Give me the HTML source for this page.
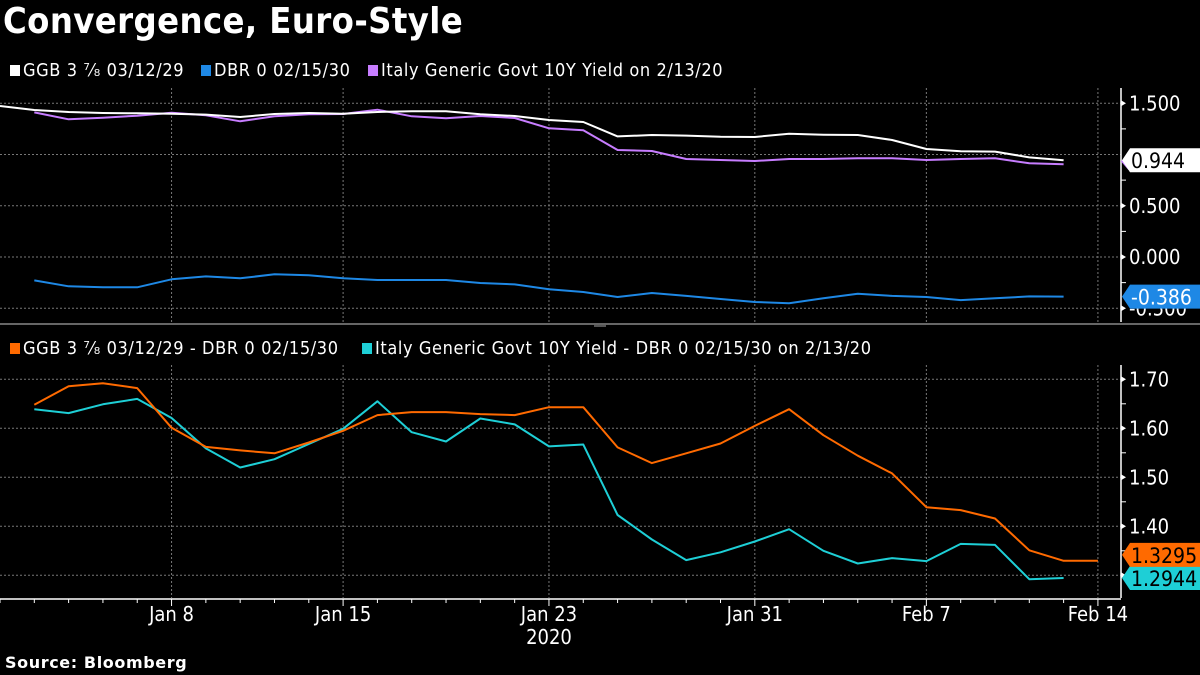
<!DOCTYPE html>
<html><head><meta charset="utf-8"><style>
html,body{margin:0;padding:0;background:#000;}
body{width:1200px;height:675px;overflow:hidden;position:relative;font-family:"Liberation Sans Narrow","DejaVu Sans Condensed","Liberation Sans",sans-serif;color:#fff;}
#title{position:absolute;left:3px;top:1px;font-family:"DejaVu Sans Condensed","Liberation Sans",sans-serif;font-weight:bold;font-size:36px;letter-spacing:0.4px;}
#source{position:absolute;left:5px;top:653px;font-family:"DejaVu Sans","Liberation Sans",sans-serif;font-weight:bold;font-size:16px;letter-spacing:0.6px;}
svg{position:absolute;left:0;top:0;}
</style></head><body>
<div id="title">Convergence, Euro-Style</div>
<div id="source">Source: Bloomberg</div>
<svg id="chart" width="1200" height="675"></svg>
<script>
// business-day index from Dec 31, 2019
const ggb = [1.473,1.434,1.415,1.405,1.402,1.398,1.389,1.366,1.395,1.405,1.398,1.415,1.421,1.421,1.392,1.376,1.337,1.317,1.177,1.190,1.184,1.174,1.171,1.203,1.193,1.190,1.141,1.054,1.031,1.028,0.972,0.944];
const italy = [null,1.411,1.343,1.359,1.379,1.408,1.382,1.324,1.373,1.392,1.395,1.437,1.373,1.353,1.376,1.356,1.256,1.236,1.044,1.034,0.956,0.946,0.937,0.956,0.956,0.963,0.963,0.946,0.956,0.963,0.914,0.904];
const dbr = [null,-0.228,-0.286,-0.296,-0.296,-0.218,-0.189,-0.208,-0.169,-0.179,-0.208,-0.224,-0.224,-0.224,-0.254,-0.267,-0.315,-0.341,-0.390,-0.351,-0.380,-0.410,-0.439,-0.452,-0.403,-0.358,-0.380,-0.390,-0.420,-0.403,-0.384,-0.386];
const spreadGgb = [null,1.648,1.686,1.692,1.682,1.601,1.562,1.555,1.549,1.571,1.595,1.627,1.633,1.633,1.629,1.627,1.643,1.643,1.561,1.529,1.549,1.569,1.605,1.639,1.586,1.544,1.508,1.439,1.433,1.416,1.351,1.3295,1.3295];
const spreadItaly = [null,1.639,1.631,1.649,1.660,1.621,1.559,1.520,1.537,1.568,1.599,1.655,1.592,1.573,1.620,1.608,1.563,1.567,1.423,1.373,1.331,1.347,1.369,1.394,1.350,1.324,1.335,1.329,1.364,1.362,1.292,1.2944];
const dateLabels = ["Jan 8","Jan 15","Jan 23","Jan 31","Feb 7","Feb 14"];
const dateIdx = [5,10,16,22,27,32];
const topTicks = [1.5,0.5,0.0,-0.5];
const topTickLabels = ["1.500","0.500","0.000","-0.500"];
const botTicks = [1.7,1.6,1.5,1.4,1.3];
const botTickLabels = ["1.70","1.60","1.50","1.40","1.30"];

const svg = document.getElementById('chart');
const NS = 'http://www.w3.org/2000/svg';
const AX = 1121;
const x = k => k * 34.31;
const yTop = v => 257 - 102.5 * v;
const yBot = v => 379.3 - (v - 1.7) * 490;
function mk(tag, attrs, parent){ const e=document.createElementNS(NS,tag); for(const a in attrs) e.setAttribute(a,attrs[a]); (parent||svg).appendChild(e); return e; }
const FONT = '"Liberation Sans Narrow","DejaVu Sans Condensed","Liberation Sans",sans-serif';

// legends
function legend(items, y){
  let cx = 10;
  items.forEach(it=>{
    const sw = mk('rect',{x:cx,y:y-11,width:10,height:11,fill:it.c});
    
    
    const t = mk('text',{x:cx+13,y:y,fill:'#fff','font-size':18,'font-family':FONT,'letter-spacing':0.6,'xml:space':'preserve'});
    t.textContent = it.t;
    
    
    cx += it.w;
  });
}
legend([{c:'#fff',t:'GGB 3 ⁷⁄₈ 03/12/29',w:191},{c:'#1e88e5',t:'DBR 0 02/15/30',w:167},{c:'#c77dff',t:'Italy Generic Govt 10Y Yield  on 2/13/20',w:400}],76);
legend([{c:'#ff6a00',t:'GGB 3 ⁷⁄₈ 03/12/29 - DBR 0 02/15/30',w:352},{c:'#1ecfd6',t:'Italy Generic Govt 10Y Yield - DBR 0 02/15/30 on 2/13/20',w:560}],354);

// gridlines
function hgrid(ticks, yf, y0, y1){
  ticks.forEach(v=>{ const yy=yf(v); if(yy<y0||yy>y1) return;
    const l=mk('line',{x1:0,x2:AX,y1:yy,y2:yy,stroke:'#777','stroke-dasharray':'2,2','stroke-width':1});
    
    
  });
}
function vgrid(y0,y1){
  dateIdx.forEach(k=>{ const l=mk('line',{x1:x(k),x2:x(k),y1:y0,y2:y1,stroke:'#777','stroke-dasharray':'2,2','stroke-width':1});
    
    
  });
}
hgrid([1.5,1.0,0.5,0,-0.5], yTop, 88, 322);
vgrid(88, 322);
hgrid([1.7,1.6,1.5,1.4,1.3], yBot, 365, 598);
vgrid(365, 598);

// axes
function yaxis(y0,y1,ticks,labels,yf,minor){
  const a=mk('line',{x1:AX,x2:AX,y1:y0,y2:y1,stroke:'#fff','stroke-width':1.5});
  
  
  minor.forEach(v=>{ const yy=yf(v); if(yy<y0||yy>y1) return; mk('line',{x1:AX,x2:AX+5,y1:yy,y2:yy,stroke:'#fff'}); });
  ticks.forEach((v,i)=>{ const yy=yf(v);
    mk('path',{d:`M${AX} ${yy-3} L${AX+5} ${yy} L${AX} ${yy+3}Z`,fill:'#fff'});
    const t=mk('text',{x:AX+8,y:yy+7,fill:'#fff','font-size':20,'font-family':FONT}); t.textContent=labels[i];
    
    
  });
}
yaxis(88,322,topTicks,topTickLabels,yTop,[1.25,0.75,0.25,-0.25]);
yaxis(365,598,botTicks,botTickLabels,yBot,[1.65,1.55,1.45,1.35]);

// divider
mk('line',{x1:0,x2:1200,y1:324,y2:324,stroke:'#888','stroke-width':1.5});
mk('line',{x1:594,x2:606,y1:326,y2:326,stroke:'#aaa','stroke-width':1});

// x axis
const xa=mk('line',{x1:0,x2:AX,y1:599,y2:599,stroke:'#fff','stroke-width':1.5});


for(let k=0;k<=32;k++){ mk('line',{x1:x(k),x2:x(k),y1:599,y2:dateIdx.includes(k)?606:603,stroke:'#fff'}); }
dateLabels.forEach((lab,i)=>{ const t=mk('text',{x:x(dateIdx[i]),y:621,fill:'#fff','font-size':20,'font-family':FONT,'text-anchor':'middle'}); t.textContent=lab;
  
  
});
const yr=mk('text',{x:x(16),y:644,fill:'#fff','font-size':20,'font-family':FONT,'text-anchor':'middle'}); yr.textContent='2020';



// series
function series(vals, yf, color, name){
  let d=''; vals.forEach((v,k)=>{ if(v===null) return; d += (d?'L':'M')+x(k).toFixed(1)+' '+yf(v).toFixed(1)+' '; });
  const p=mk('path',{d:d,fill:'none',stroke:color,'stroke-width':2,'stroke-linejoin':'round'});
  
  
}
series(dbr,yTop,'#1e88e5','dbr-line');
series(italy,yTop,'#c77dff','italy-line');
series(ggb,yTop,'#ffffff','ggb-line');
series(spreadItaly,yBot,'#1ecfd6','italy-spread-line');
series(spreadGgb,yBot,'#ff6a00','ggb-spread-line');

// value tags
function tag(v,yf,bg,fg,txt,name,dy){
  const yy=yf(v)+(dy||0);
  const g=mk('g',{});
  
  
  mk('path',{d:`M${AX+1} ${yy} L${AX+9} ${yy-12} H1200 V${yy+12} H${AX+9}Z`,fill:bg},g);
  const t=mk('text',{x:AX+10,y:yy+8,fill:fg,'font-size':21,'font-family':FONT},g); t.textContent=txt;
}
mk('path',{d:`M${AX+1} ${yTop(0.944)} L${AX+8} ${yTop(0.904)+4} H1200`,stroke:'#c77dff','stroke-width':3,fill:'none'});
tag(0.944,yTop,'#fff','#000','0.944','ggb-last-value');
tag(-0.386,yTop,'#1e88e5','#fff','-0.386','dbr-last-value');
tag(1.2944,yBot,'#1ecfd6','#000','1.2944','italy-spread-last-value',0);
tag(1.3295,yBot,'#ff6a00','#000','1.3295','ggb-spread-last-value',-6);
</script>
</body></html>
